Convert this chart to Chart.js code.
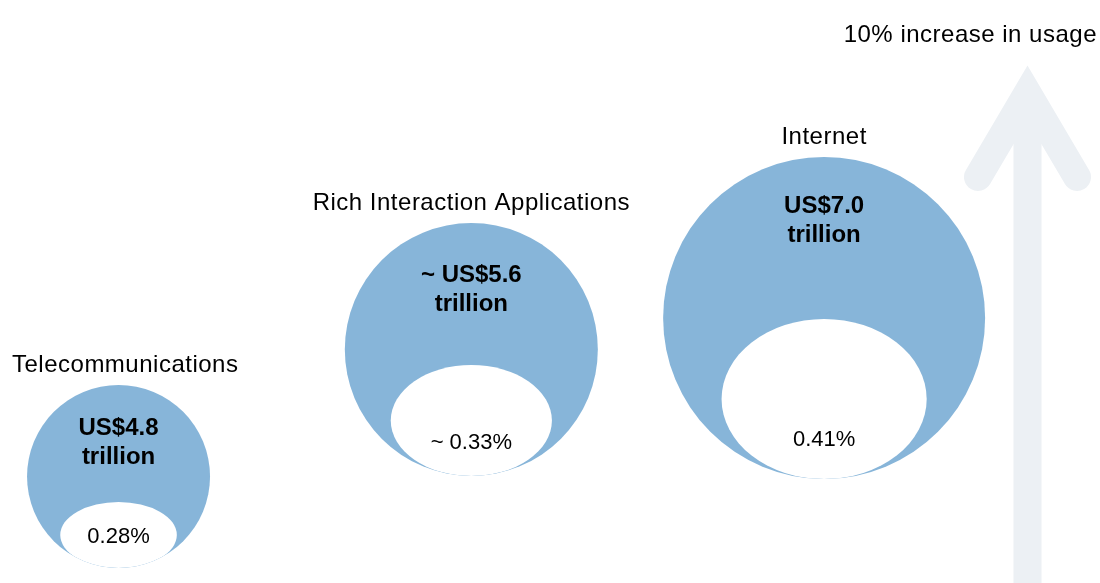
<!DOCTYPE html>
<html>
<head>
<meta charset="utf-8">
<title>Market size and usage increase</title>
<script src="https://cdn.jsdelivr.net/npm/chart.js@4/dist/chart.umd.min.js"></script>
<style>
  html, body { margin: 0; padding: 0; background: #fff; overflow: hidden; }
  #wrap { width: 1100px; height: 583px; }
</style>
</head>
<body>
<div id="wrap"><canvas id="chart" width="1100" height="583"></canvas></div>
<script>
// data
const categories = ["Telecommunications", "Rich Interaction Applications", "Internet"];
const values = [4.8, 5.6, 7.0];          // US$ trillion
const rates = [0.28, 0.33, 0.41];        // % increase for 10% more usage
const approx = [false, true, false];     // "~" shown before the numbers
const arrowLabel = "10% increase in usage";

// layout of the slide (pixels)
const bubbleY = [476.5, 349.5, 318];
const bubbleR = [91.5, 126.5, 161];
const holeH = [33, 55.5, 80];            // half height of the white hole
const valueTop = [50, 59, 56];           // baseline of value text below bubble top
const rateBottom = [25, 27, 33];         // baseline of rate text above bubble bottom

const BLUE = "#87b5d9";
const ARROW = "#ecf0f4";
const FONT = '"Liberation Sans", Arial, sans-serif';

// light arrow on the right
const arrowPlugin = {
  id: "arrow",
  beforeDatasetsDraw(chart) {
    const ctx = chart.ctx;
    ctx.save();
    ctx.strokeStyle = ARROW;
    ctx.fillStyle = ARROW;
    ctx.lineWidth = 28;
    ctx.lineCap = "round";
    ctx.lineJoin = "miter";
    ctx.miterLimit = 10;
    ctx.beginPath();
    ctx.moveTo(978, 177);
    ctx.lineTo(1027.5, 93);
    ctx.lineTo(1077, 177);
    ctx.stroke();
    ctx.fillRect(1013.5, 93, 28, 500);
    ctx.restore();
  }
};

// white holes and texts on each bubble
const labelPlugin = {
  id: "labels",
  afterDatasetsDraw(chart) {
    const ctx = chart.ctx;
    const meta = chart.getDatasetMeta(0);
    meta.data.forEach((el, i) => {
      const x = el.x, y = el.y, r = el.options.radius;
      const top = y - r, bottom = y + r;

      ctx.save();
      ctx.beginPath();
      ctx.arc(x, y, r, 0, Math.PI * 2);
      ctx.clip();
      ctx.fillStyle = "#fff";
      ctx.beginPath();
      ctx.ellipse(x, bottom - holeH[i], r * 0.637, holeH[i], 0, 0, Math.PI * 2);
      ctx.fill();
      ctx.restore();

      ctx.save();
      ctx.fillStyle = "#000";
      ctx.textAlign = "center";
      ctx.textBaseline = "alphabetic";
      const pre = approx[i] ? "~ " : "";

      // category name above the bubble, kept off the left edge
      ctx.font = "24px " + FONT;
      ctx.letterSpacing = "0.5px";
      const w = ctx.measureText(categories[i]).width;
      const lx = Math.max(x, 12 + w / 2);
      ctx.fillText(categories[i], lx, top - 13);

      ctx.letterSpacing = "0px";
      ctx.font = "bold 24px " + FONT;
      ctx.fillText(pre + "US$" + values[i].toFixed(1), x, top + valueTop[i]);
      ctx.fillText("trillion", x, top + valueTop[i] + 29);

      ctx.font = "22px " + FONT;
      ctx.fillText(pre + rates[i].toFixed(2) + "%", x, bottom - rateBottom[i]);
      ctx.restore();
    });

    ctx.save();
    ctx.fillStyle = "#000";
    ctx.font = "24px " + FONT;
    ctx.letterSpacing = "0.5px";
    ctx.textAlign = "right";
    ctx.fillText(arrowLabel, 1097, 42);
    ctx.restore();
  }
};

const ctx = document.getElementById("chart").getContext("2d");
const chart = new Chart(ctx, {
  type: "bubble",
  data: {
    datasets: [
      {
        label: "Market size",
        data: categories.map((c, i) => ({ x: i, y: bubbleY[i], r: bubbleR[i] })),
        backgroundColor: BLUE,
        borderWidth: 0,
        hoverRadius: 0,
        hoverBorderWidth: 0,
        clip: false
      }
    ]
  },
  options: {
    responsive: false,
    animation: false,
    events: [],
    layout: { padding: 0, autoPadding: false },
    plugins: {
      legend: { display: false },
      tooltip: { enabled: false }
    },
    scales: {
      x: { type: "linear", min: -0.336, max: 2.782, display: false },
      y: { type: "linear", min: 0, max: 583, reverse: true, display: false }
    }
  },
  plugins: [arrowPlugin, labelPlugin]
});
</script>
</body>
</html>
